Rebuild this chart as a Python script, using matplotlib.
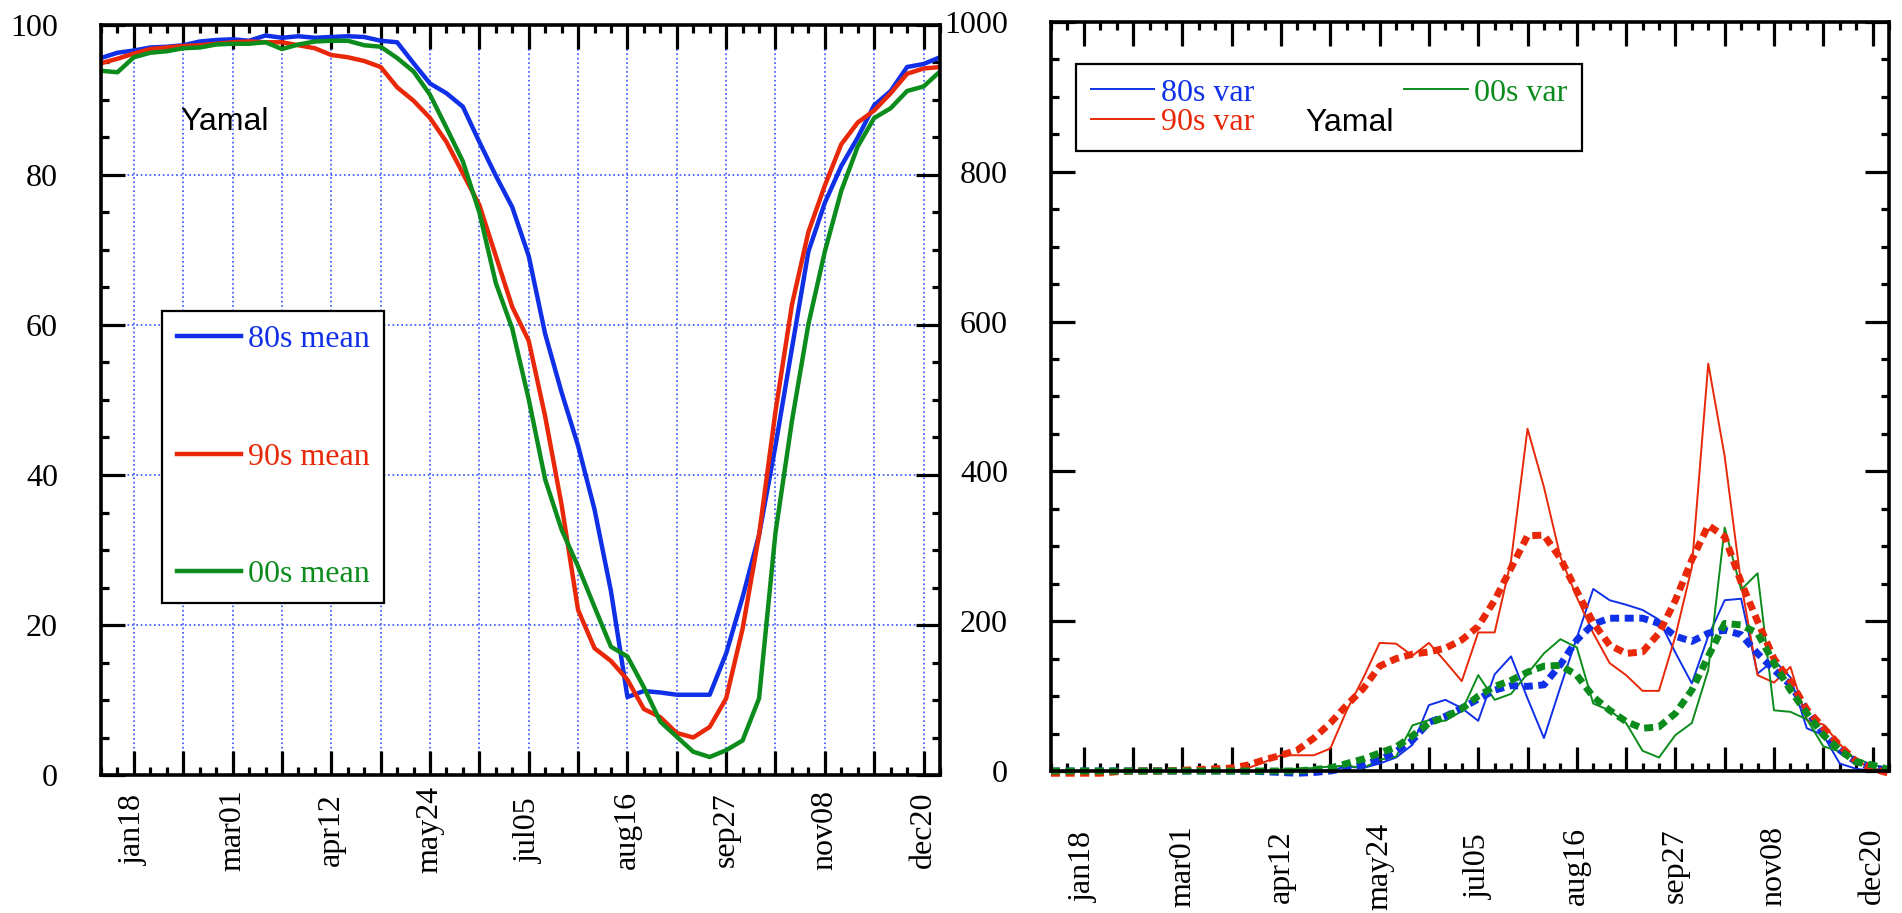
import matplotlib
matplotlib.use("Agg")
import matplotlib.pyplot as plt
from matplotlib.ticker import MultipleLocator

# weekly points, jan04 .. dec27
weeks = list(range(52))
major_weeks = list(range(2, 52, 3))
label_weeks = [2, 8, 14, 20, 26, 32, 38, 44, 50]
date_labels = ["jan18", "mar01", "apr12", "may24", "jul05",
               "aug16", "sep27", "nov08", "dec20"]

# left panel: mean values
mean80 = [95.6, 96.3, 96.6, 97.0, 97.1, 97.3, 97.8, 98.0, 98.1, 97.9,
          98.6, 98.3, 98.5, 98.3, 98.4, 98.5, 98.4, 97.9, 97.7, 94.9,
          92.2, 90.9, 89.1, 84.4, 79.9, 75.7, 69.2, 58.8, 51.0, 43.9,
          35.4, 24.5, 10.4, 11.2, 11.0, 10.7, 10.7, 10.7, 16.2, 23.7,
          32.0, 43.9, 56.9, 69.8, 76.3, 81.2, 85.0, 89.3, 91.2, 94.4,
          94.8, 95.7]
mean90 = [94.9, 95.5, 96.2, 96.8, 97.0, 97.2, 97.3, 97.5, 97.7, 97.8,
          97.7, 97.7, 97.3, 96.9, 96.0, 95.7, 95.2, 94.4, 91.7, 89.9,
          87.6, 84.4, 80.2, 76.0, 69.2, 62.4, 57.9, 47.8, 36.0, 22.0,
          16.9, 15.2, 12.7, 8.8, 7.7, 5.6, 5.0, 6.4, 10.2, 19.5,
          32.0, 48.5, 62.7, 72.4, 78.6, 84.1, 87.0, 88.6, 90.9, 93.5,
          94.2, 94.4]
mean00 = [93.9, 93.7, 95.7, 96.3, 96.5, 96.9, 97.0, 97.4, 97.5, 97.5,
          97.7, 96.8, 97.4, 97.8, 97.9, 97.9, 97.3, 97.1, 95.6, 93.8,
          90.7, 86.3, 81.8, 75.0, 65.6, 59.5, 50.1, 39.4, 32.7, 27.8,
          22.4, 17.1, 15.8, 11.7, 7.1, 5.1, 3.1, 2.4, 3.3, 4.6,
          10.2, 32.3, 47.2, 60.1, 69.8, 77.9, 83.8, 87.6, 88.9, 91.2,
          91.8, 93.8]

# right panel: variance (thin) and smoothed variance (dashed)
var80 = [0, 0, 0, 0, 0, 0, 0, 0, 0, 0,
         0, 0, 0, 0, 0, 0, 0, 1, 6, 4,
         10, 18, 35, 88, 95, 84, 67, 129, 153, 97,
         44, 112, 178, 243, 228, 222, 215, 202, 158, 117,
         180, 228, 230, 130, 148, 125, 57, 48, 10, 3,
         0, 0]
var90 = [0, 0, 0, 0, 0, 0, 0, 0, 0, 0,
         0, 0, 4, 12, 21, 21, 21, 30, 81, 124,
         171, 170, 154, 171, 146, 120, 185, 185, 281, 457,
         379, 286, 232, 184, 144, 128, 107, 107, 180, 272,
         544, 420, 250, 128, 118, 139, 68, 62, 36, 14,
         3, 0]
var00 = [0, 0, 0, 0, 0, 0, 0, 0, 0, 0,
         0, 0, 0, 0, 2, 3, 4, 6, 7, 4,
         15, 19, 61, 68, 67, 80, 128, 95, 103, 130,
         157, 176, 165, 90, 81, 64, 27, 18, 48, 64,
         135, 325, 242, 264, 81, 79, 69, 33, 26, 17,
         8, 4]
smooth80 = [0, 0, 0, 0, 0, 0, 0, 0, 0, 0,
            0, 0, 0, -1, -2, -3, -2, 0, 4, 8,
            15, 26, 41, 65, 73, 84, 96, 108, 114, 113,
            115, 142, 175, 196, 204, 204, 204, 197, 180, 173,
            184, 188, 182, 157, 135, 115, 81, 50, 28, 12,
            4, 1]
smooth90 = [-3, -3, -3, -3, -1, 0, 0, 0, 1, 2,
            3, 4, 8, 15, 21, 28, 44, 64, 88, 110,
            140, 150, 156, 159, 164, 175, 193, 228, 271, 314,
            315, 284, 240, 198, 168, 157, 159, 184, 228, 282,
            328, 313, 252, 200, 150, 120, 82, 58, 34, 13,
            3, -3]
smooth00 = [0, 0, 0, 0, 0, 0, 0, 0, 0, 0,
            0, 0, 0, 0, 0, 0, 2, 4, 10, 16,
            24, 32, 47, 64, 72, 83, 100, 113, 121, 132,
            140, 141, 128, 99, 81, 66, 57, 59, 77, 108,
            153, 197, 195, 184, 144, 108, 77, 48, 28, 12,
            8, 2]

blue = "#1030e8"
red = "#e82808"
green = "#0c8c1c"

serif = "Liberation Serif"
sans = "Liberation Sans"
fs = 23

fig = plt.figure(figsize=(19.02, 9.13), dpi=100)
ax1 = fig.add_axes([101 / 1902, 138 / 913, 839 / 1902, 750 / 913])
ax2 = fig.add_axes([1051 / 1902, 142 / 913, 838 / 1902, 749 / 913])


def style_axes(ax, ymaj, ymin, xpad):
    ax.set_xlim(0, 51)
    ax.set_xticks(major_weeks)
    ax.set_xticklabels([date_labels[label_weeks.index(w)] if w in label_weeks else ""
                        for w in major_weeks], rotation=90, fontfamily=serif,
                       fontsize=fs, va="center")
    ax.set_xticks(weeks, minor=True)
    ax.yaxis.set_major_locator(MultipleLocator(ymaj))
    ax.yaxis.set_minor_locator(MultipleLocator(ymin))
    for lab in ax.get_yticklabels():
        lab.set_fontfamily(serif)
        lab.set_fontsize(fs)
    ax.tick_params(which="both", direction="in", top=True, right=True, width=2.3)
    ax.tick_params(which="major", length=17.5)
    ax.tick_params(which="minor", length=5.5)
    ax.tick_params(axis="y", pad=31, labelsize=fs)
    ax.tick_params(axis="x", pad=xpad, labelsize=fs)
    for sp in ax.spines.values():
        sp.set_linewidth(2.6)


# ---- left panel ----
ax1.plot(weeks, mean80, color=blue, lw=3.2, label="80s mean")
ax1.plot(weeks, mean90, color=red, lw=3.2, label="90s mean")
ax1.plot(weeks, mean00, color=green, lw=3.2, label="00s mean")
ax1.set_ylim(0, 100)
style_axes(ax1, 20, 5, 39.5)
ax1.grid(True, which="major", color="#3050ff", linestyle=":", linewidth=1.2)
ax1.set_axisbelow(True)
ax1.text(0.094, 0.871, "Yamal", transform=ax1.transAxes, fontfamily=sans,
         fontsize=23, va="center", ha="left")
leg1 = ax1.legend(loc="upper left", bbox_to_anchor=(0.073, 0.619), borderaxespad=0,
                  prop={"family": serif, "size": fs}, labelspacing=2.75,
                  handlelength=2.0, handletextpad=0.22, borderpad=0.45,
                  fancybox=False, framealpha=1, edgecolor="black",
                  labelcolor="linecolor")
leg1.get_frame().set_linewidth(1.6)

# ---- right panel ----
ax2.plot(weeks, var80, color=blue, lw=1.4, label="80s var", clip_on=False)
ax2.plot(weeks, var90, color=red, lw=1.4, label="90s var", clip_on=False)
ax2.plot(weeks, var00, color=green, lw=1.4, label="00s var", clip_on=False)
ax2.plot(weeks, smooth80, color=blue, lw=5, linestyle=(0, (1.3, 0.8)), clip_on=False)
ax2.plot(weeks, smooth90, color=red, lw=5, linestyle=(0, (1.3, 0.8)), clip_on=False)
ax2.plot(weeks, smooth00, color=green, lw=5, linestyle=(0, (1.3, 0.8)), clip_on=False)
ax2.set_ylim(0, 1000)
style_axes(ax2, 200, 50, 68.5)
h, l = ax2.get_legend_handles_labels()
leg2 = ax2.legend(h[:3], l[:3], ncol=2, loc="upper left", bbox_to_anchor=(0.030, 0.944),
                  borderaxespad=0, prop={"family": serif, "size": fs}, labelspacing=0.0,
                  handlelength=2.0, handletextpad=0.2, borderpad=0.45, columnspacing=4.7,
                  fancybox=False, framealpha=1, edgecolor="black",
                  labelcolor="linecolor")
leg2.get_frame().set_linewidth(1.6)
ax2.text(0.303, 0.865, "Yamal", transform=ax2.transAxes, fontfamily=sans,
         fontsize=23, va="center", ha="left", zorder=6)

fig.savefig("out.png", dpi=100)
